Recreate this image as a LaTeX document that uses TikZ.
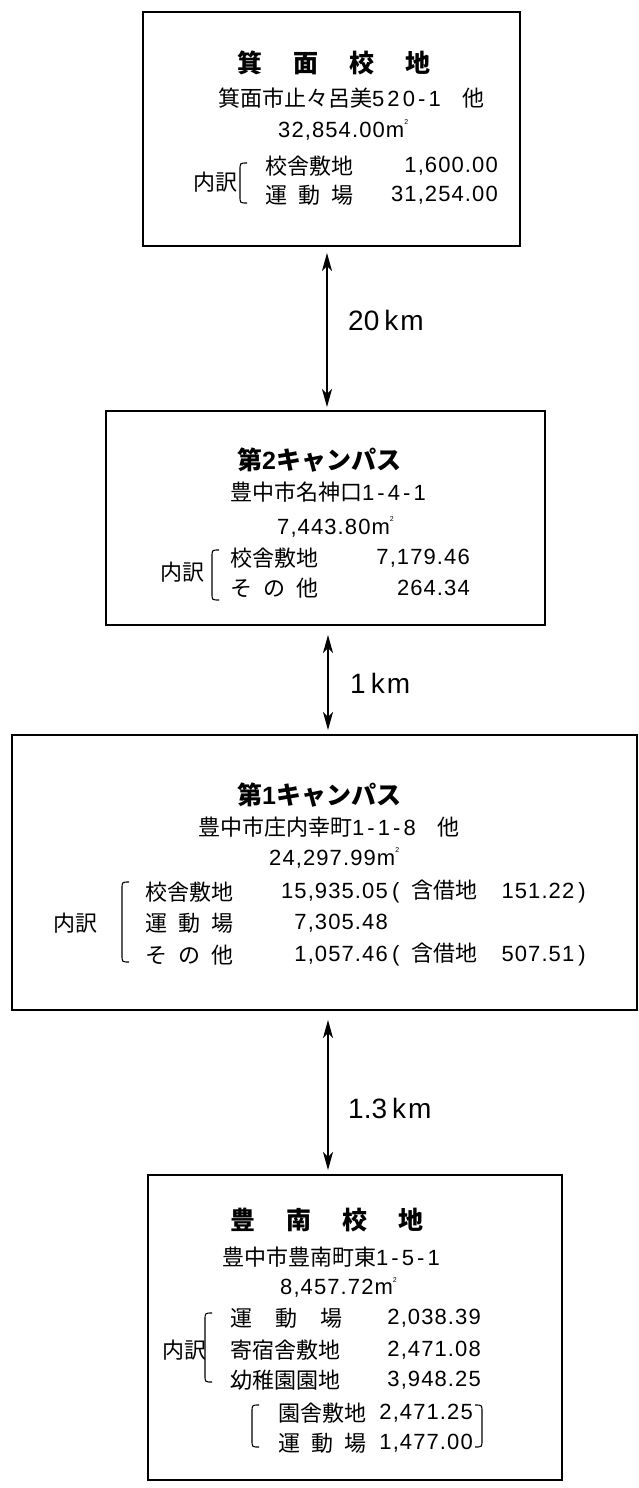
\documentclass[tikz,border=0pt]{standalone}
\usepackage{fontspec}
\setmainfont{Noto Sans CJK JP}
\newfontfamily\latinnum[LetterSpace=5]{Liberation Sans}
\newfontfamily\latinaddr[LetterSpace=14]{Liberation Sans}
\newfontfamily\latinkm{Liberation Sans}
\usetikzlibrary{arrows.meta}
\newcommand\nm[1]{{\latinnum #1}}
\newcommand\na[1]{{\latinaddr #1}}
\newcommand\sqm{{\latinnum m}\raisebox{0.55em}{\fontsize{7}{7}\selectfont\latinkm 2}}
\newcommand\spr[2]{\makebox[#1][s]{#2}}
\tikzset{
  box/.style={draw, line width=1.2pt},
  txt/.style={inner sep=0pt, anchor=west, font=\fontsize{22}{26}\selectfont},
  val/.style={inner sep=0pt, anchor=east, font=\fontsize{22}{26}\selectfont},
  ttl/.style={inner sep=0pt, anchor=west, font=\fontsize{25}{30}\selectfont\bfseries},
  km/.style={inner sep=0pt, anchor=west, font=\fontsize{28}{32}\selectfont\latinkm},
  dist/.style={line width=1.3pt, {Stealth[length=18pt,width=10pt,inset=5pt]}-{Stealth[length=18pt,width=10pt,inset=5pt]}},
  brk/.style={line width=1.1pt}
}
\begin{document}
\begin{tikzpicture}[x=1pt,y=-1pt]
\useasboundingbox (0,0) rectangle (639,1488);
% boxes
\draw[box] (143,12) rectangle (520,246);
\draw[box] (106,411) rectangle (545,625);
\draw[box] (12,735) rectangle (637,1010);
\draw[box] (148,1175) rectangle (562,1480);

% ---- box 1
\node[ttl] (t1) at (237,63) {箕\hspace{31pt}面\hspace{31pt}校\hspace{31pt}地};
\node[txt] (a1) at (218,98) {箕面市止々呂美\na{520-1}\hspace{22pt}他};
\node[txt] (s1) at (278,130) {\nm{32,854.00}\sqm};
\node[txt] (u1) at (193,182) {内訳};
\draw[brk] (247,163) .. controls (240,163) .. (240,170) -- (240,196) .. controls (240,203) .. (247,203);
\node[txt] (r11) at (265,166) {校舎敷地};
\node[val] (v11) at (498,166) {\nm{1,600.00}};
\node[txt] (r12) at (265,195) {\spr{88pt}{運\hfill 動\hfill 場}};
\node[val] (v12) at (498,195) {\nm{31,254.00}};

% ---- arrow 1
\coordinate (p1) at (327,253);
\coordinate (q1) at (327,407);
\draw[dist] (p1) -- (q1);
\node[km] (k1) at (348,320) {20\hspace{5pt}k\hspace{2pt}m};

% ---- box 2
\node[ttl] (t2) at (237,460) {第\textbf{\latinkm 2}キャンパス};
\node[txt] (a2) at (230,492) {豊中市名神口\na{1-4-1}};
\node[txt] (s2) at (277,527) {\nm{7,443.80}\sqm};
\node[txt] (u2) at (160,572) {内訳};
\draw[brk] (219,550) .. controls (212,550) .. (212,557) -- (212,593) .. controls (212,600) .. (219,600);
\node[txt] (r21) at (230,558) {校舎敷地};
\node[val] (v21) at (470,558) {\nm{7,179.46}};
\node[txt] (r22) at (230,588) {\spr{88pt}{そ\hfill の\hfill 他}};
\node[val] (v22) at (470,588) {\nm{264.34}};

% ---- arrow 2
\coordinate (p2) at (328,635);
\coordinate (q2) at (328,730);
\draw[dist] (p2) -- (q2);
\node[km] (k2) at (350,683) {1\hspace{5pt}k\hspace{2pt}m};

% ---- box 3
\node[ttl] (t3) at (237,795) {第\textbf{\latinkm 1}キャンパス};
\node[txt] (a3) at (198,827) {豊中市庄内幸町\na{1-1-8}\hspace{22pt}他};
\node[txt] (s3) at (269,858) {\nm{24,297.99}\sqm};
\node[txt] (u3) at (53,923) {内訳};
\draw[brk] (129,882) .. controls (122,882) .. (122,889) -- (122,955) .. controls (122,962) .. (129,962);
\node[txt] (r31) at (145,892) {校舎敷地};
\node[txt] (r32) at (145,923) {\spr{88pt}{運\hfill 動\hfill 場}};
\node[txt] (r33) at (145,955) {\spr{88pt}{そ\hfill の\hfill 他}};
\node[val] (v31) at (388,892) {\nm{15,935.05}};
\node[val] (v32) at (388,923) {\nm{7,305.48}};
\node[val] (v33) at (388,955) {\nm{1,057.46}};
\node[txt] (n31) at (392,892) {\nm{(}\hspace{12pt}含借地\hspace{24pt}\nm{151.22}\hspace{4pt}\nm{)}};
\node[txt] (n33) at (392,955) {\nm{(}\hspace{12pt}含借地\hspace{24pt}\nm{507.51}\hspace{4pt}\nm{)}};

% ---- arrow 3
\coordinate (p3) at (328,1020);
\coordinate (q3) at (328,1170);
\draw[dist] (p3) -- (q3);
\node[km] (k3) at (348,1108) {1.3\hspace{5pt}k\hspace{2pt}m};

% ---- box 4
\node[ttl] (t4) at (230,1220) {豊\hspace{31pt}南\hspace{31pt}校\hspace{31pt}地};
\node[txt] (a4) at (222,1257) {豊中市豊南町東\na{1-5-1}};
\node[txt] (s4) at (280,1287) {\nm{8,457.72}\sqm};
\node[txt] (u4) at (162,1350) {内訳};
\draw[brk] (212,1313) .. controls (205,1313) .. (205,1320) -- (205,1375) .. controls (205,1382) .. (212,1382);
\node[txt] (r41) at (230,1318) {\spr{112pt}{運\hfill 動\hfill 場}};
\node[txt] (r42) at (230,1350) {寄宿舎敷地};
\node[txt] (r43) at (230,1380) {幼稚園園地};
\node[val] (v41) at (481,1318) {\nm{2,038.39}};
\node[val] (v42) at (481,1350) {\nm{2,471.08}};
\node[val] (v43) at (481,1380) {\nm{3,948.25}};
\draw[brk] (259,1405) .. controls (252,1405) .. (252,1412) -- (252,1440) .. controls (252,1447) .. (259,1447);
\node[txt] (r44) at (278,1413) {園舎敷地};
\node[txt] (r45) at (278,1443) {\spr{88pt}{運\hfill 動\hfill 場}};
\node[val] (v44) at (473,1413) {\nm{2,471.25}};
\node[val] (v45) at (473,1443) {\nm{1,477.00}};
\draw[brk] (475,1405) .. controls (482,1405) .. (482,1412) -- (482,1440) .. controls (482,1447) .. (475,1447);
\end{tikzpicture}
\end{document}
